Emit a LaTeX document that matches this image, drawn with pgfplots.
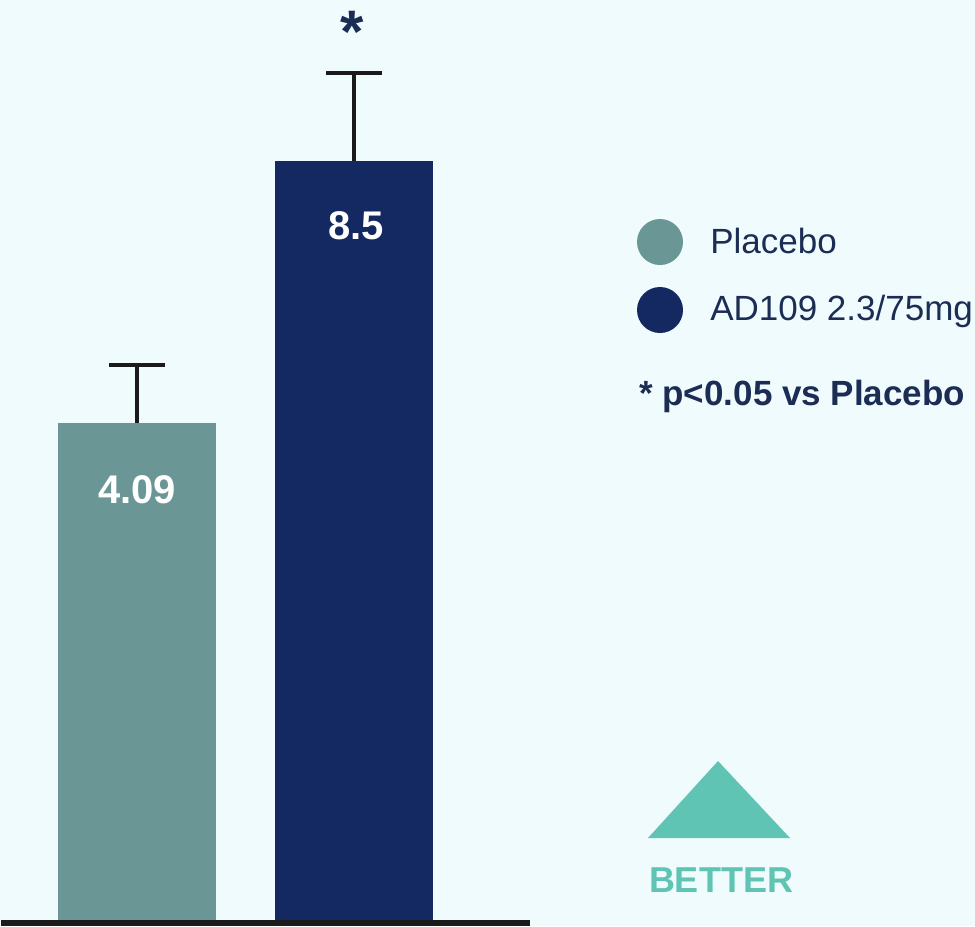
\documentclass[border=0pt]{standalone}
\usepackage{pgfplots}
\pgfplotsset{compat=1.18}
\usepackage{fontspec}
\setmainfont{Liberation Sans}
\definecolor{bgc}{RGB}{240,251,253}
\definecolor{placeboc}{RGB}{106,150,150}
\definecolor{adc}{RGB}{20,40,98}
\definecolor{txtc}{RGB}{28,45,85}
\definecolor{errc}{RGB}{26,26,26}
\definecolor{betterc}{RGB}{95,196,180}
\begin{document}
\begin{tikzpicture}
% background
\fill[bgc] (0pt,0pt) rectangle (731.25pt,-694.5pt);
\begin{axis}[
  at={(0.75pt,-692.25pt)}, anchor=south west,
  scale only axis, width=396.75pt, height=692.25pt,
  xmin=0.3733, xmax=2.811, ymin=-4.326, ymax=11.21,
  axis x line=bottom, axis y line=none,
  x axis line style={line width=4.5pt, color=errc, -},
  xtick=\empty, ytick=\empty,
  clip=false,
]
% bars (value from axis floor)
\addplot[fill=placeboc, draw=none] coordinates {(0.636,-4.326) (0.636,4.09) (1.364,4.09) (1.364,-4.326)} -- cycle;
\addplot[fill=adc, draw=none] coordinates {(1.636,-4.326) (1.636,8.5) (2.364,8.5) (2.364,-4.326)} -- cycle;
% error bars
\addplot[draw=none, mark=none,
  error bars/.cd, y dir=plus, y explicit,
  error bar style={line width=2.8pt, color=errc},
  error mark options={rotate=90, mark size=21pt, line width=2.8pt, color=errc}]
  coordinates {(1,4.09) +- (0,0.98) (2,8.5) +- (0,1.48)};
% redraw baseline on top
\draw[line width=4.5pt, errc] (axis cs:0.3733,-4.326) -- (axis cs:2.811,-4.326);
% value labels
\node[anchor=base, text=white, font=\fontsize{30pt}{34pt}\selectfont\bfseries] at (axis cs:1,2.727) {4.09};
\node[anchor=base, text=white, font=\fontsize{30pt}{34pt}\selectfont\bfseries] at (axis cs:2.01,7.187) {8.5};
\end{axis}
\begin{scope}[x=0.75pt, y=-0.75pt]
% significance star
\node[anchor=base, text=txtc, font=\fontsize{45pt}{50pt}\selectfont\bfseries, inner sep=0pt] at (352,52) {*};
% legend
\fill[placeboc] (660,242) circle (23);
\fill[adc] (660,310) circle (23);
\node[anchor=base west, inner sep=0pt, text=txtc, font=\fontsize{26.25pt}{30pt}\selectfont] at (710,253) {Placebo};
\node[anchor=base west, inner sep=0pt, text=txtc, font=\fontsize{26.25pt}{30pt}\selectfont] at (710,320) {AD109 2.3/75mg};
\node[anchor=base west, inner sep=0pt, text=txtc, font=\fontsize{26.25pt}{30pt}\selectfont\bfseries] at (639,405) {* p<0.05 vs Placebo};
% better indicator
\fill[betterc] (648,838) -- (790,838) -- (718,761) -- cycle;
\node[anchor=base, inner sep=0pt, text=betterc, font=\fontsize{27pt}{30pt}\selectfont\bfseries] at (721,892) {BETTER};
\end{scope}
\pgfresetboundingbox
\path (0pt,0pt) rectangle (731.25pt,-694.5pt);
\end{tikzpicture}
\end{document}
